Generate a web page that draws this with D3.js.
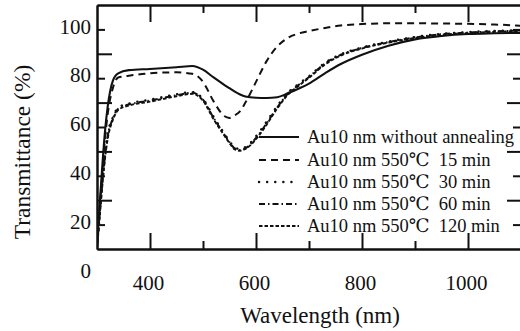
<!DOCTYPE html>
<html><head><meta charset="utf-8">
<script src="https://cdn.jsdelivr.net/npm/d3@7"></script>
<style>
body{margin:0;background:#fff}
text{font-family:"Liberation Serif","DejaVu Serif",serif;fill:#111}
</style>
</head><body>
<svg id="c" width="520" height="331"></svg>
<script>
// ---- data ----
const wavelengths = [300,305,310,315,320,330,340,360,400,450,480,500,520,540,550,560,570,580,600,620,640,660,680,700,730,760,800,850,900,950,1000,1050,1100];
const noAnneal = [12,28,44,58,68,79,82,83.3,83.8,84.5,85,83.5,80.3,77.3,75.9,74.5,73.3,72.5,72,71.9,72.2,73.8,75.7,77.8,82,85.8,89.6,93.3,95.9,97.3,98.1,98.4,98.6];
const min15 = [11,26,41,55,65,76,80.3,81,82,82.4,81.8,78.5,70.5,64.5,63.7,64.8,66.5,70,78.5,87,93,96.5,98.3,99.3,100.6,101.6,102.2,102.5,102.5,102.4,102.3,102,101.5];
const min30 = [11,25,38,49,57,64,68,69.6,71.2,73.4,74.3,71.5,64.2,57.4,54.2,51.6,51,51.8,56.2,62.2,68.6,74,77.6,80.8,86.3,89.8,92.6,95,96.9,98.2,98.9,99.4,99.7];
const min60 = [11,24,37,48,56,63.5,67.5,69.2,70.8,73,74,71.2,63.7,57,53.8,51.2,50.6,51.3,55.5,61.5,68,73.6,77.2,80.5,86,89.6,92.4,94.8,96.7,98,98.7,99.2,99.5];
const min120 = [10.5,23,36,47,55,63,67,68.8,70.4,72.6,73.6,70.8,63.2,56.6,53.4,50.8,50.3,51,55,61,67.6,73.2,76.8,80.2,85.6,89.3,92.2,94.6,96.5,97.8,98.5,99,99.3];
const seriesNames = ["Au10 nm without annealing","Au10 nm 550\u2103  15 min","Au10 nm 550\u2103  30 min","Au10 nm 550\u2103  60 min","Au10 nm 550\u2103  120 min"];
const xMajorTicks = [400,600,800,1000];
const xMinorTicks = [500,700,900];
const yEvenTicks = [100,80,60,40,20];
const yOddTicks = [90,70,50,30];
const yLabels = [100,80,60,40,20,0];
const xTitle = "Wavelength (nm)";
const yTitle = "Transmittance (%)";

// ---- layout ----
const L=97, R=521, T=5, B=249;
const svg = d3.select("#c");
const x = d3.scaleLinear().domain([300,1100]).range([L,R]);
const y = d3.scaleLinear().domain([10,110]).range([B,T]);

const styles = [
  {dash:null, w:2.1, cap:"butt"},
  {dash:"7,5", w:2, cap:"butt"},
  {dash:"0.1,8", w:2.4, cap:"round"},
  {dash:"6,3,1.5,3", w:2, cap:"butt"},
  {dash:"3.5,2", w:2, cap:"butt"}
];
const seriesVals = [noAnneal,min15,min30,min60,min120];

// clip
svg.append("clipPath").attr("id","clip").append("rect")
  .attr("x",L).attr("y",T).attr("width",R-L).attr("height",B-T);

const line = d3.line().x((d,i)=>x(wavelengths[i])).y(d=>y(d)).curve(d3.curveMonotoneX);
const g = svg.append("g").attr("clip-path","url(#clip)");
seriesVals.forEach((vals,k)=>{
  g.append("path").datum(vals).attr("d",line)
   .attr("fill","none").attr("stroke","#111")
   .attr("stroke-width",styles[k].w)
   .attr("stroke-linecap",styles[k].cap)
   .attr("stroke-linejoin","round")
   .attr("stroke-dasharray",styles[k].dash);
});

// axes (ticks inward)
function tickAxis(axisFn, scale, vals, len, transform){
  const a = axisFn(scale).tickValues(vals).tickSizeInner(-len).tickSizeOuter(0).tickFormat("");
  const ga = svg.append("g").attr("transform",transform).call(a);
  ga.selectAll("line,path").attr("stroke","#111").attr("stroke-width",2);
  return ga;
}
tickAxis(d3.axisBottom, x, xMajorTicks, 16, `translate(0,${B})`);
tickAxis(d3.axisBottom, x, xMinorTicks, 8, `translate(0,${B})`);
tickAxis(d3.axisTop, x, xMajorTicks, 17, `translate(0,${T})`);
tickAxis(d3.axisTop, x, xMinorTicks, 8, `translate(0,${T})`);
tickAxis(d3.axisLeft, y, yOddTicks, 15, `translate(${L},0)`);
tickAxis(d3.axisLeft, y, yEvenTicks, 8, `translate(${L},0)`);
tickAxis(d3.axisRight, y, yOddTicks, 14, `translate(${R},0)`);
tickAxis(d3.axisRight, y, yEvenTicks, 8, `translate(${R},0)`);

// tick labels
const yl = svg.append("g").attr("transform",`translate(${L},0)`)
  .call(d3.axisLeft(y).tickValues(yLabels).tickSize(0).tickPadding(6).tickFormat(d3.format("d")));
yl.select(".domain").remove();
yl.selectAll("text").attr("font-size",21).attr("font-family","Liberation Serif").attr("fill","#111").attr("dy","0.32em")
  .attr("transform","translate(0,-3)");

const xl = svg.append("g").attr("transform",`translate(0,${B})`)
  .call(d3.axisBottom(x).tickValues(xMajorTicks).tickSize(0).tickPadding(26).tickFormat(d3.format("d")));
xl.select(".domain").remove();
xl.selectAll("text").attr("font-size",21).attr("font-family","Liberation Serif").attr("fill","#111").attr("transform","translate(-2,0)");

// axis titles
svg.append("text").attr("x",320).attr("y",323).attr("text-anchor","middle")
  .attr("font-size",23).text(xTitle);
svg.append("text").attr("transform","translate(30,152) rotate(-90)").attr("text-anchor","middle")
  .attr("font-size",23.5).text(yTitle);

// legend
const legY = [137,160,182,204,226];
seriesNames.forEach((name,k)=>{
  svg.append("line").attr("x1",259).attr("x2",299).attr("y1",legY[k]).attr("y2",legY[k])
    .attr("stroke","#111").attr("stroke-width",styles[k].w)
    .attr("stroke-linecap",styles[k].cap).attr("stroke-dasharray",styles[k].dash);
  svg.append("text").attr("x",307).attr("y",legY[k]+6).attr("font-size",18.5)
    .style("white-space","pre").text(name);
});
</script>
</body></html>
